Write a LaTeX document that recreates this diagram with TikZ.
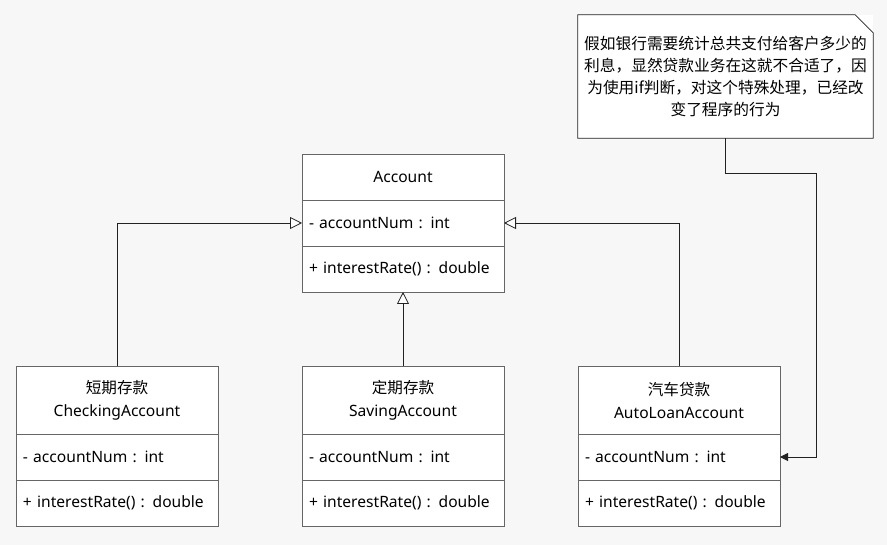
\documentclass[tikz,border=0pt]{standalone}
\usepackage{fontspec}
\setmainfont{Noto Sans}
\newfontfamily\cjk{Noto Sans CJK SC}
\usetikzlibrary{positioning}
\usetikzlibrary{arrows.meta}

\definecolor{bggray}{HTML}{F7F7F7}
\definecolor{boxgray}{HTML}{666666}
\definecolor{wiregray}{HTML}{222222}
\definecolor{inkblack}{HTML}{000000}

\tikzset{
  uml/.style={draw=boxgray, fill=white, line width=0.8pt, outer sep=0pt, inner sep=0pt,
    minimum width=202pt, text=inkblack, font=\fontsize{15.6}{23}\selectfont},
  classhead/.style={uml, align=center},
  member/.style={uml, minimum height=46pt, text width=188pt, inner xsep=7pt, align=left},
  inherit/.style={draw=wiregray, line width=0.8pt, -{Triangle[open, length=12pt, width=12pt, fill=white]}},
  attach/.style={draw=wiregray, line width=0.8pt, -{Triangle[length=8pt, width=8pt]}}
}

\begin{document}
\begin{tikzpicture}[x=1pt, y=-1pt]
  % Background
  \fill[bggray] (0,0) rectangle (887,545);
  \useasboundingbox (0,0) rectangle (887,545);
  % Base class
  \node[classhead, minimum height=46pt] (acc) at (403,177) {Account};
  \node[member, below=0pt of acc] (acc-attr) {- accountNum : int};
  \node[member, below=0pt of acc-attr] (acc-ops) {+ interestRate() : double};
  % Sub classes
  \node[classhead, minimum height=68pt] (chk) at (117,400) {{\cjk 短期存款}\\CheckingAccount};
  \node[member, below=0pt of chk] (chk-attr) {- accountNum : int};
  \node[member, below=0pt of chk-attr] (chk-ops) {+ interestRate() : double};
  \node[classhead, minimum height=68pt] (sav) at (403,400) {{\cjk 定期存款}\\SavingAccount};
  \node[member, below=0pt of sav] (sav-attr) {- accountNum : int};
  \node[member, below=0pt of sav-attr] (sav-ops) {+ interestRate() : double};
  \node[classhead, minimum height=68pt] (auto) at (679,400) {{\cjk 汽车贷款}\\AutoLoanAccount};
  \node[member, below=0pt of auto] (auto-attr) {- accountNum : int};
  \node[member, below=0pt of auto-attr] (auto-ops) {+ interestRate() : double};
  % Generalization
  \draw[inherit] (chk.north) |- (acc-attr.west);
  \draw[inherit] (sav.north) -- (acc-ops.south);
  \draw[inherit] (auto.north) |- (acc-attr.east);
  % Note
  \node[fill=white, minimum width=295pt, minimum height=123pt, inner sep=0pt, align=center,
    text=inkblack, font=\cjk\fontsize{15.7}{22}\selectfont] (note) at (725.5,76.5)
    {假如银行需要统计总共支付给客户多少的\\利息，显然贷款业务在这就不合适了，因\\为使用if判断，对这个特殊处理，已经改\\变了程序的行为};
  \draw[wiregray, line width=0.8pt] (note.north west) -- ([xshift=-18pt]note.north east)
    -- ([yshift=-18pt]note.north east) -- (note.south east) -- (note.south west) -- cycle;
  \coordinate (bend) at (816,173);
  \draw[attach] (note.south) |- (bend) |- (auto-attr.east);
\end{tikzpicture}
\end{document}
